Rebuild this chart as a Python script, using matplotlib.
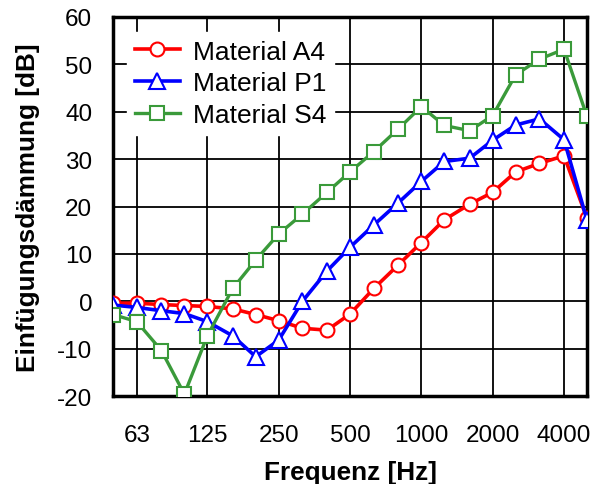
import matplotlib
matplotlib.use("Agg")
import matplotlib.pyplot as plt

plt.rcParams['font.family'] = ['Liberation Sans', 'DejaVu Sans']
plt.rcParams['axes.unicode_minus'] = False

# third-octave band centre frequencies
freq = [50, 63, 80, 100, 125, 160, 200, 250, 315, 400, 500, 630, 800,
        1000, 1250, 1600, 2000, 2500, 3150, 4000, 5000]

# insertion loss per material in dB
il_a4 = [-0.4, -0.4, -0.7, -0.9, -1.1, -1.6, -2.8, -4.1, -5.7, -6.1, -2.7,
         2.7, 7.7, 12.4, 17.2, 20.5, 23.0, 27.3, 29.1, 30.7, 17.5]
il_p1 = [-0.8, -1.3, -2.0, -2.6, -4.3, -7.3, -11.7, -8.2, 0.0, 6.4, 11.4,
         16.1, 20.8, 25.3, 29.5, 30.2, 34.0, 37.2, 38.5, 34.1, 17.1]
il_s4 = [-2.8, -4.3, -10.4, -19.6, -7.3, 2.7, 8.7, 14.2, 18.4, 23.0, 27.3,
         31.6, 36.4, 41.1, 37.1, 36.0, 39.2, 47.8, 51.1, 53.2, 39.0]

octave_ticks = [63, 125, 250, 500, 1000, 2000, 4000]
octave_labels = ['63', '125', '250', '500', '1000', '2000', '4000']

fig = plt.figure(figsize=(5.93, 4.85), dpi=100)
ax = fig.add_axes([0.1906, 0.1814, 0.7993, 0.7815])

ax.plot(freq, il_a4, color='#ff0000', lw=2.6, marker='o', ms=10,
        mfc='white', mec='#ff0000', mew=1.5, label='Material A4', zorder=3)
ax.plot(freq, il_p1, color='#0000ff', lw=2.6, marker='^', ms=11,
        mfc='white', mec='#0000ff', mew=1.5, label='Material P1', zorder=3)
ax.plot(freq, il_s4, color='#3a9a3a', lw=2.4, marker='s', ms=10,
        mfc='white', mec='#3a9a3a', mew=1.5, label='Material S4', zorder=3)

ax.set_xscale('log')
ax.set_xlim(50, 5000)
ax.set_ylim(-20, 60)
ax.set_xticks(octave_ticks)
ax.set_xticklabels(octave_labels)
ax.minorticks_off()
ax.set_yticks(range(-20, 61, 10))

ax.grid(True, color='black', lw=1.3)
ax.set_axisbelow(True)
ax.tick_params(axis='both', length=0, labelsize=17.5)
ax.tick_params(axis='x', pad=20)
ax.tick_params(axis='y', pad=15)
for s in ax.spines.values():
    s.set_linewidth(2.5)

ax.set_xlabel('Frequenz [Hz]', fontsize=18.8, fontweight='bold', labelpad=10)
ax.set_ylabel('Einfügungsdämmung [dB]', fontsize=18.8, fontweight='bold',
              labelpad=12)

leg = ax.legend(loc='upper left', fontsize=19, frameon=True,
                fancybox=False, edgecolor='white', framealpha=1,
                borderpad=0.3, handlelength=1.7, handletextpad=0.5,
                labelspacing=0.29, borderaxespad=0,
                bbox_to_anchor=(0.0295, 0.9615))

fig.savefig('out.png', dpi=100)
